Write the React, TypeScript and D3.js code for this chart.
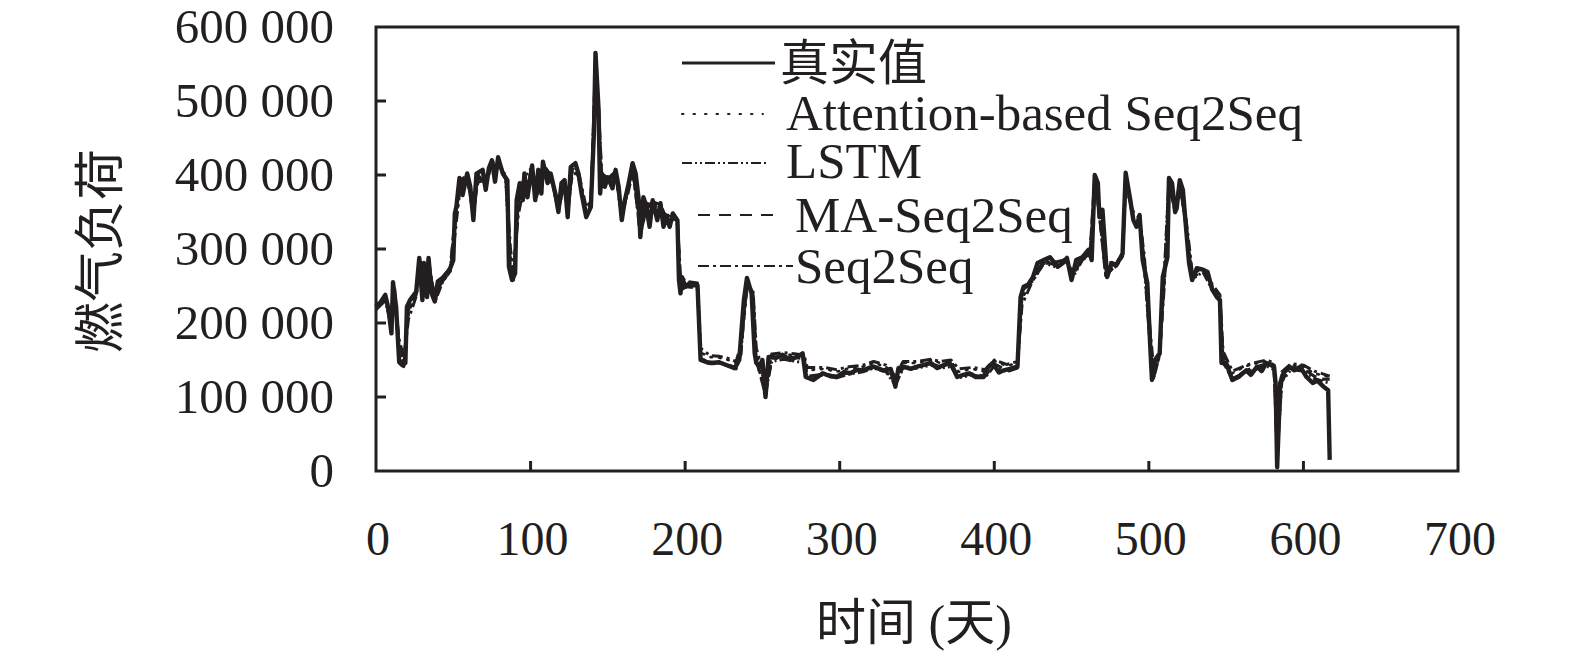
import { useEffect, useRef } from "react";
import * as d3 from "d3";

type Pt = [number, number];

// day, load in thousands
const actual: Pt[] = [
  [0, 222], [3, 228], [6, 238], [8, 220], [10, 186], [11, 255], [13, 222], [15, 147], [17, 143], [19, 146],
  [20, 222], [22, 231], [26, 242], [28, 288], [30, 231], [31, 281], [33, 235], [34, 288], [36, 240], [38, 229],
  [40, 256], [43, 261], [46, 268], [48, 274], [50, 285], [51, 348], [52, 357], [54, 396], [56, 373], [59, 402],
  [61, 384], [63, 339], [65, 402], [69, 407], [71, 380], [73, 409], [75, 420], [77, 391], [79, 424], [82, 402],
  [85, 393], [86, 276], [88, 258], [90, 267], [91, 366], [93, 389], [95, 366], [96, 402], [98, 370], [101, 413],
  [103, 366], [105, 407], [107, 375], [108, 418], [111, 389], [113, 402], [116, 375], [118, 350], [120, 389], [122, 393],
  [124, 343], [126, 411], [129, 416], [131, 402], [133, 375], [136, 343], [139, 357], [141, 457], [142, 565], [144, 488],
  [145, 375], [146, 402], [148, 384], [150, 397], [153, 382], [155, 407], [157, 384], [159, 339], [161, 366], [163, 384],
  [166, 416], [168, 402], [170, 366], [171, 316], [173, 370], [175, 357], [177, 330], [179, 366], [182, 339], [184, 362],
  [186, 330], [188, 343], [190, 330], [192, 348], [195, 339], [196, 258], [197, 240], [198, 262], [200, 249], [203, 254],
  [208, 251], [210, 150], [214, 147], [218, 146], [222, 147], [227, 143], [232, 139], [235, 150], [238, 231], [240, 261],
  [243, 240], [245, 159], [246, 146], [248, 141], [250, 150], [252, 100], [254, 154], [259, 153], [263, 157], [268, 150],
  [272, 154], [276, 159], [278, 127], [283, 123], [289, 132], [294, 128], [298, 127], [303, 134], [307, 132], [311, 137],
  [315, 136], [320, 140], [322, 141], [328, 136], [333, 138], [336, 114], [338, 139], [341, 141], [346, 138], [350, 141],
  [354, 143], [359, 146], [363, 139], [365, 141], [371, 146], [373, 140], [376, 127], [380, 130], [384, 132], [388, 127],
  [393, 127], [396, 140], [399, 146], [403, 133], [406, 136], [410, 138], [415, 141], [417, 235], [419, 249], [422, 252],
  [425, 262], [428, 281], [432, 285], [436, 289], [441, 276], [444, 281], [447, 288], [450, 258], [453, 285], [457, 289],
  [461, 299], [463, 285], [465, 400], [467, 389], [468, 343], [470, 353], [473, 262], [476, 281], [479, 278], [483, 294],
  [485, 403], [488, 366], [490, 339], [492, 330], [494, 346], [496, 285], [499, 254], [501, 164], [502, 123], [504, 150],
  [507, 159], [509, 262], [512, 289], [513, 396], [515, 389], [517, 350], [518, 355], [520, 393], [522, 380], [524, 330],
  [526, 281], [528, 258], [531, 274], [535, 272], [538, 269], [541, 245], [544, 235], [546, 231], [547, 146], [550, 146],
  [554, 123], [558, 127], [563, 136], [566, 130], [570, 141], [573, 135], [576, 146], [581, 141], [582, 119], [583, 5],
  [585, 119], [587, 132], [591, 141], [594, 136], [598, 141], [602, 127], [606, 119], [609, 122], [613, 114], [616, 109],
  [617, 15],
];

const attention: Pt[] = [
  [0, 224], [6, 234], [10, 205], [12, 244], [15, 170], [18, 150], [21, 212], [26, 244], [28, 276], [31, 272],
  [34, 278], [38, 236], [43, 262], [48, 275], [51, 325], [54, 380], [59, 396], [63, 355], [66, 395], [71, 392],
  [75, 412], [79, 416], [84, 398], [87, 290], [89, 265], [92, 352], [96, 392], [101, 402], [104, 378], [108, 408],
  [113, 396], [118, 360], [122, 386], [124, 356], [127, 404], [131, 402], [136, 352], [139, 362], [142, 530], [144, 482],
  [146, 398], [150, 394], [155, 402], [159, 350], [163, 378], [166, 408], [171, 330], [175, 360], [179, 362], [184, 352],
  [188, 344], [192, 346], [195, 338], [197, 256], [201, 254], [208, 252], [210, 160], [216, 154], [222, 153], [228, 150],
  [233, 146], [236, 165], [240, 250], [244, 238], [246, 160], [252, 116], [256, 156], [264, 158], [272, 156], [277, 154],
  [279, 136], [290, 138], [298, 134], [306, 139], [315, 141], [322, 146], [330, 141], [336, 124], [341, 146], [350, 146],
  [359, 150], [365, 146], [372, 148], [377, 134], [386, 138], [394, 134], [400, 149], [408, 142], [415, 146], [418, 232],
  [425, 262], [432, 284], [441, 281], [447, 288], [450, 266], [457, 289], [462, 296], [465, 385], [468, 352], [472, 276],
  [479, 282], [483, 294], [485, 390], [490, 345], [494, 345], [497, 286], [501, 178], [503, 136], [507, 162], [510, 258],
  [513, 386], [517, 355], [520, 386], [524, 338], [528, 266], [535, 274], [541, 250], [546, 236], [548, 156], [554, 132],
  [563, 142], [570, 146], [576, 148], [581, 144], [583, 52], [586, 130], [592, 143], [600, 141], [607, 132], [613, 129],
  [617, 127],
];

const lstm: Pt[] = [
  [0, 218], [6, 230], [10, 196], [12, 236], [15, 160], [18, 141], [21, 218], [26, 238], [28, 283], [31, 266],
  [34, 283], [38, 228], [43, 255], [48, 270], [51, 335], [54, 388], [59, 399], [63, 346], [66, 400], [71, 387],
  [75, 417], [79, 420], [84, 392], [87, 272], [89, 258], [92, 364], [96, 397], [101, 408], [104, 371], [108, 413],
  [113, 399], [118, 351], [122, 392], [124, 346], [127, 410], [131, 398], [136, 344], [139, 356], [142, 548], [144, 476],
  [146, 391], [150, 391], [155, 403], [159, 341], [163, 382], [166, 412], [171, 320], [175, 355], [179, 361], [184, 357],
  [188, 336], [192, 343], [195, 333], [197, 246], [201, 249], [208, 247], [210, 150], [216, 145], [222, 146], [228, 142],
  [233, 138], [236, 156], [240, 258], [244, 232], [246, 151], [252, 106], [256, 148], [264, 151], [272, 148], [277, 146],
  [279, 126], [290, 130], [298, 126], [306, 131], [315, 134], [322, 139], [330, 134], [336, 116], [341, 139], [350, 139],
  [359, 143], [365, 139], [372, 141], [377, 126], [386, 130], [394, 126], [400, 142], [408, 134], [415, 139], [418, 244],
  [425, 257], [432, 281], [441, 275], [447, 284], [450, 259], [457, 285], [462, 293], [465, 394], [468, 347], [472, 266],
  [479, 277], [483, 290], [485, 398], [490, 339], [494, 340], [497, 276], [501, 166], [503, 126], [507, 156], [510, 268],
  [513, 393], [517, 349], [520, 390], [524, 331], [528, 259], [535, 269], [541, 245], [546, 230], [548, 147], [554, 125],
  [563, 134], [570, 138], [576, 142], [581, 137], [583, 30], [586, 121], [592, 137], [600, 135], [607, 125], [613, 121],
  [617, 119],
];

const maSeq2Seq: Pt[] = [
  [0, 221], [6, 236], [10, 192], [12, 248], [15, 155], [18, 144], [21, 220], [26, 242], [28, 285], [31, 276],
  [34, 285], [38, 230], [43, 260], [48, 273], [51, 340], [54, 392], [59, 400], [63, 343], [66, 401], [71, 388],
  [75, 418], [79, 422], [84, 394], [87, 275], [89, 259], [92, 362], [96, 399], [101, 410], [104, 370], [108, 415],
  [113, 400], [118, 352], [122, 391], [124, 345], [127, 409], [131, 401], [136, 345], [139, 358], [142, 555], [144, 485],
  [146, 399], [150, 395], [155, 405], [159, 342], [163, 383], [166, 414], [171, 318], [175, 356], [179, 364], [184, 360],
  [188, 341], [192, 346], [195, 337], [197, 244], [201, 250], [208, 250], [210, 152], [216, 147], [222, 147], [228, 143],
  [233, 140], [236, 158], [240, 260], [244, 238], [246, 150], [252, 103], [256, 153], [264, 155], [272, 153], [277, 152],
  [279, 128], [290, 131], [298, 128], [306, 133], [315, 136], [322, 140], [330, 136], [336, 117], [341, 140], [350, 141],
  [359, 145], [365, 141], [372, 144], [377, 128], [386, 131], [394, 128], [400, 145], [408, 136], [415, 140], [418, 242],
  [425, 261], [432, 284], [441, 277], [447, 287], [450, 260], [457, 288], [462, 297], [465, 398], [468, 346], [472, 264],
  [479, 279], [483, 293], [485, 401], [490, 340], [494, 345], [497, 283], [501, 166], [503, 125], [507, 158], [510, 262],
  [513, 395], [517, 351], [520, 392], [524, 332], [528, 260], [535, 272], [541, 246], [546, 232], [548, 148], [554, 124],
  [563, 136], [570, 141], [576, 145], [581, 140], [583, 20], [586, 122], [592, 140], [600, 138], [607, 128], [613, 124],
  [617, 124],
];

const seq2seq: Pt[] = [
  [0, 226], [6, 229], [10, 210], [12, 232], [15, 178], [18, 152], [21, 205], [26, 236], [28, 270], [31, 262],
  [34, 272], [38, 240], [43, 256], [48, 270], [51, 318], [54, 375], [59, 392], [63, 360], [66, 390], [71, 394],
  [75, 408], [79, 412], [84, 400], [87, 300], [89, 270], [92, 345], [96, 388], [101, 398], [104, 382], [108, 404],
  [113, 394], [118, 364], [122, 384], [124, 360], [127, 400], [131, 404], [136, 356], [139, 365], [142, 520], [144, 490],
  [146, 402], [150, 396], [155, 398], [159, 355], [163, 375], [166, 404], [171, 335], [175, 362], [179, 358], [184, 350],
  [188, 346], [192, 344], [195, 340], [197, 262], [201, 256], [208, 254], [210, 166], [216, 156], [222, 155], [228, 152],
  [233, 148], [236, 170], [240, 245], [244, 242], [246, 166], [252, 122], [256, 158], [264, 160], [272, 158], [277, 156],
  [279, 140], [290, 140], [298, 137], [306, 141], [315, 143], [322, 148], [330, 143], [336, 128], [341, 148], [350, 148],
  [359, 151], [365, 148], [372, 150], [377, 138], [386, 140], [394, 137], [400, 150], [408, 144], [415, 148], [418, 225],
  [425, 258], [432, 280], [441, 283], [447, 286], [450, 270], [457, 286], [462, 294], [465, 378], [468, 356], [472, 282],
  [479, 281], [483, 292], [485, 384], [490, 350], [494, 342], [497, 292], [501, 185], [503, 142], [507, 160], [510, 250],
  [513, 380], [517, 358], [520, 382], [524, 342], [528, 270], [535, 274], [541, 252], [546, 238], [548, 162], [554, 135],
  [563, 143], [570, 147], [576, 150], [581, 146], [583, 65], [586, 134], [592, 145], [600, 143], [607, 135], [613, 131],
  [617, 128],
];

const seriesNames = ["真实值", "Attention-based Seq2Seq", "LSTM", "MA-Seq2Seq", "Seq2Seq"];
const xTicks = [0, 100, 200, 300, 400, 500, 600, 700];
const yTicks = [0, 100000, 200000, 300000, 400000, 500000, 600000];
const xTitle = "时间 (天)";
const yTitle = "燃气负荷";

const INK = "#231f20";
const FONT = "'Liberation Serif', 'Times New Roman', 'Noto Sans CJK SC', serif";

export default function App() {
  const svgRef = useRef<SVGSVGElement>(null);

  useEffect(() => {
    const width = 1575;
    const height = 657;
    const plot = { left: 376, right: 1458, top: 27, bottom: 471 };

    const svg = d3.select(svgRef.current)
      .attr("width", width)
      .attr("height", height)
      .html(null);

    svg.append("rect").attr("width", width).attr("height", height).attr("fill", "#fff");

    const x = d3.scaleLinear().domain([0, 700]).range([plot.left, plot.right]);
    const y = d3.scaleLinear().domain([0, 600000]).range([plot.bottom, plot.top]);

    const fmt = d3.formatLocale({ decimal: ".", thousands: " ", grouping: [3], currency: ["", ""] }).format(",");

    const line = d3.line<Pt>()
      .x(d => x(d[0]))
      .y(d => y(d[1] * 1000));

    const series: { data: Pt[]; dash: string | null; w: number; cap: string }[] = [
      { data: attention, dash: "1.5,7", w: 2.6, cap: "round" },
      { data: lstm, dash: "10,3,2,3,2,3", w: 3, cap: "butt" },
      { data: maSeq2Seq, dash: "12,6", w: 3, cap: "butt" },
      { data: seq2seq, dash: "11,4,3,4", w: 3, cap: "butt" },
      { data: actual, dash: null, w: 4.4, cap: "butt" },
    ];

    series.forEach(s => {
      svg.append("path")
        .datum(s.data)
        .attr("fill", "none")
        .attr("stroke", INK)
        .attr("stroke-width", s.w)
        .attr("stroke-linejoin", "round")
        .attr("stroke-linecap", s.cap)
        .attr("stroke-dasharray", s.dash)
        .attr("d", line);
    });

    // frame
    svg.append("rect")
      .attr("x", plot.left)
      .attr("y", plot.top)
      .attr("width", plot.right - plot.left)
      .attr("height", plot.bottom - plot.top)
      .attr("fill", "none")
      .attr("stroke", INK)
      .attr("stroke-width", 3);

    // inward ticks
    svg.append("g").selectAll("line")
      .data(yTicks.slice(1, -1))
      .join("line")
      .attr("x1", plot.left).attr("x2", plot.left + 10)
      .attr("y1", d => y(d)).attr("y2", d => y(d))
      .attr("stroke", INK).attr("stroke-width", 3);

    svg.append("g").selectAll("line")
      .data(xTicks.slice(1, -1))
      .join("line")
      .attr("x1", d => x(d)).attr("x2", d => x(d))
      .attr("y1", plot.bottom).attr("y2", plot.bottom - 10)
      .attr("stroke", INK).attr("stroke-width", 3);

    svg.append("g").selectAll("text")
      .data(yTicks)
      .join("text")
      .attr("x", 334)
      .attr("y", d => y(d) + 16)
      .attr("text-anchor", "end")
      .attr("font-family", FONT)
      .attr("font-size", 49)
      .attr("fill", INK)
      .text(d => fmt(d));

    svg.append("g").selectAll("text")
      .data(xTicks)
      .join("text")
      .attr("x", d => x(d) + 2)
      .attr("y", 555)
      .attr("text-anchor", "middle")
      .attr("font-family", FONT)
      .attr("font-size", 48)
      .attr("fill", INK)
      .text(d => d);

    svg.append("text")
      .attr("x", 914)
      .attr("y", 640)
      .attr("text-anchor", "middle")
      .attr("font-family", FONT)
      .attr("font-size", 50)
      .attr("fill", INK)
      .text(xTitle);

    svg.append("text")
      .attr("transform", "translate(118,251) rotate(-90)")
      .attr("text-anchor", "middle")
      .attr("font-family", FONT)
      .attr("font-size", 51)
      .attr("fill", INK)
      .text(yTitle);

    // legend
    const legend = [
      { x1: 682, x2: 775, ly: 63, tx: 780, ty: 80, size: 49 },
      { x1: 682, x2: 763, ly: 114, tx: 786, ty: 130, size: 51 },
      { x1: 682, x2: 769, ly: 163, tx: 786, ty: 178, size: 51 },
      { x1: 698, x2: 780, ly: 215, tx: 795, ty: 232, size: 51 },
      { x1: 698, x2: 793, ly: 266, tx: 795, ty: 283, size: 51 },
    ];
    const legendStyle = [
      { dash: null, w: 3, cap: "butt" },
      { dash: "1.5,10", w: 2, cap: "round" },
      { dash: "10,3,2,3,2,3", w: 2, cap: "butt" },
      { dash: "12,9", w: 2, cap: "butt" },
      { dash: "11,4,3,4", w: 2, cap: "butt" },
    ];

    seriesNames.forEach((name, i) => {
      const p = legend[i];
      const st = legendStyle[i];
      svg.append("line")
        .attr("x1", p.x1).attr("x2", p.x2)
        .attr("y1", p.ly).attr("y2", p.ly)
        .attr("stroke", INK)
        .attr("stroke-width", st.w)
        .attr("stroke-linecap", st.cap)
        .attr("stroke-dasharray", st.dash);
      svg.append("text")
        .attr("x", p.tx)
        .attr("y", p.ty)
        .attr("font-family", FONT)
        .attr("font-size", p.size)
        .attr("fill", INK)
        .text(name);
    });
  }, []);

  return (
    <div style={{ position: "absolute", left: 0, top: 0 }}>
      <svg ref={svgRef} style={{ display: "block" }}></svg>
    </div>
  );
}
